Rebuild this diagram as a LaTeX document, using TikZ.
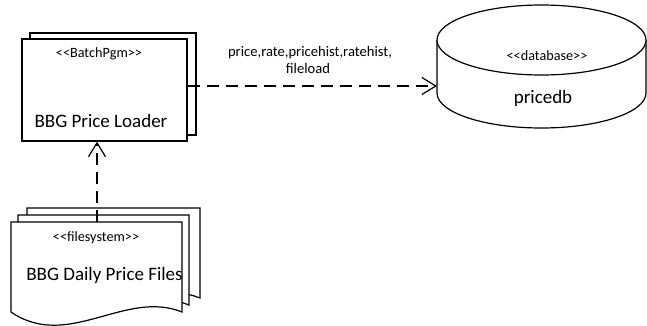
\documentclass[tikz,border=0pt]{standalone}
\usepackage{fontspec}
\setmainfont{Carlito}
\usetikzlibrary{arrows.meta}
\newcommand{\lt}{<\kern0pt<}
\newcommand{\gt}{>\kern0pt>}
\begin{document}
\begin{tikzpicture}[x=1pt,y=1pt,
  shapeline/.style={draw=black,line width=1.2pt,fill=white},
  dep/.style={draw=black,line width=1.2pt,dash pattern=on 12pt off 7pt,
    -{Straight Barb[length=14pt,width=17pt,line width=1.2pt]}},
  stereo/.style={font=\fontsize{14.2}{16}\selectfont,anchor=base,inner sep=0pt},
  title/.style={font=\fontsize{19}{22}\selectfont,anchor=base,inner sep=0pt},
  lbl/.style={font=\fontsize{14.6}{16}\selectfont,anchor=base,inner sep=0pt}]
\useasboundingbox (0,0) rectangle (647,325);
% loader (batch program)
\node[shapeline,minimum width=166pt,minimum height=102pt,inner sep=0pt] (loaderback) at (113,241) {};
\node[shapeline,minimum width=165pt,minimum height=102pt,inner sep=0pt] (loader) at (104.5,235) {};
\node[stereo] (loaderst) at (99,268) {\lt BatchPgm\gt};
\node[title] (loadername) at (101,198) {BBG Price Loader};
% files (document stack)
\draw[shapeline] (27,117) -- (200,117) -- (200,27)
  .. controls (143,50) and (86,-12) .. (27,27) -- cycle;
\draw[shapeline] (18,110) -- (189,110) -- (189,20)
  .. controls (132,43) and (75,-19) .. (18,20) -- cycle;
\draw[shapeline] (11,103) -- (182,103) -- (182,13)
  .. controls (125,36) and (68,-26) .. (11,13) -- cycle;
\coordinate (files) at (97,103);
\node[stereo] (filesst) at (96,84) {\lt filesystem\gt};
\node[title] (filesname) at (104.5,45) {BBG Daily Price Files};
% database cylinder
\draw[shapeline] (437,285) -- (437,232)
  arc[start angle=180,end angle=360,x radius=104.5pt,y radius=35pt] -- (646,285);
\draw[shapeline] (541.5,285) ellipse[x radius=104.5pt,y radius=35pt];
\coordinate (db) at (437,239);
\node[stereo] (dbst) at (547,265) {\lt database\gt};
\node[title] (dbname) at (543,222) {pricedb};
% connectors
\draw[dep] (loader.east |- db) -- (db);
\node[lbl] (l1) at (310,269) {price,rate,pricehist,ratehist,};
\node[lbl] (l2) at (308,252) {fileload};
\draw[dep] (files) -- (files |- loader.south);
\end{tikzpicture}
\end{document}
